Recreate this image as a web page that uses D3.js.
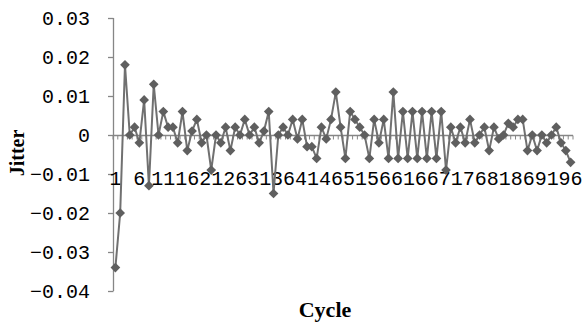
<!DOCTYPE html>
<html>
<head>
<meta charset="utf-8">
<script src="https://cdn.jsdelivr.net/npm/d3@7"></script>
<style>
  body { margin: 0; background: #fff; }
  text { fill: #000; }
</style>
</head>
<body>
<svg id="chart" width="582" height="327"></svg>
<script>
// data
const cycles = d3.range(1, 97);
const jitter = [
  -0.034, -0.020, 0.018, 0.000, 0.002, -0.002, 0.009, -0.013, 0.013, 0.000,
  0.006, 0.002, 0.002, -0.002, 0.006, -0.004, 0.001, 0.004, -0.002, 0.000,
  -0.009, 0.000, -0.002, 0.002, -0.004, 0.002, 0.000, 0.004, 0.000, 0.002,
  -0.002, 0.001, 0.006, -0.015, 0.000, 0.002, 0.000, 0.004, -0.001, 0.004,
  -0.003, -0.003, -0.006, 0.002, -0.001, 0.004, 0.011, 0.002, -0.006, 0.006,
  0.004, 0.002, 0.000, -0.006, 0.004, -0.002, 0.004, -0.006, 0.011, -0.006,
  0.006, -0.006, 0.006, -0.006, 0.006, -0.006, 0.006, -0.006, 0.006, -0.009,
  0.002, -0.002, 0.002, -0.002, 0.004, -0.002, 0.000, 0.002, -0.004, 0.002,
  -0.001, 0.000, 0.003, 0.002, 0.004, 0.004, -0.004, 0.000, -0.004, 0.000,
  -0.002, 0.000, 0.002, -0.002, -0.004, -0.007
];
const yTicks = [0.03, 0.02, 0.01, 0, -0.01, -0.02, -0.03, -0.04];
const xLabels = cycles.filter(c => (c - 1) % 5 === 0);

const svg = d3.select("#chart");
const axisColor = "#868686";
const tickFont = "'Liberation Mono', monospace";

const x = d3.scaleBand().domain(cycles).range([113, 573]);
const y = d3.scaleLinear().domain([-0.04, 0.03]).range([291, 18]);
const cx = c => x(c) + x.bandwidth() / 2;
const fmt = d3.format(".2f");

// y axis
const yAxis = svg.append("g");
yAxis.append("line")
  .attr("x1", 113.5).attr("x2", 113.5)
  .attr("y1", y(0.03)).attr("y2", y(-0.04))
  .attr("stroke", axisColor).attr("stroke-width", 1.3);
yAxis.selectAll("line.tick").data(yTicks).enter().append("line")
  .attr("class", "tick")
  .attr("x1", 108).attr("x2", 113.5)
  .attr("y1", d => Math.round(y(d)) + 0.5).attr("y2", d => Math.round(y(d)) + 0.5)
  .attr("stroke", axisColor).attr("stroke-width", 1.3);
yAxis.selectAll("text").data(yTicks).enter().append("text")
  .attr("x", 90).attr("y", d => y(d))
  .attr("dy", "0.36em")
  .attr("text-anchor", "end")
  .style("font-family", tickFont)
  .style("font-size", "20px")
  .text(d => d === 0 ? "0" : fmt(d));

// x axis at zero
const y0 = Math.round(y(0)) + 0.5;
const xAxis = svg.append("g");
xAxis.append("line")
  .attr("x1", 113).attr("x2", 573)
  .attr("y1", y0).attr("y2", y0)
  .attr("stroke", axisColor).attr("stroke-width", 1.3);
xAxis.selectAll("line.tick").data(cycles.concat([null])).enter().append("line")
  .attr("class", "tick")
  .attr("x1", (d, i) => 113 + i * x.step()).attr("x2", (d, i) => 113 + i * x.step())
  .attr("y1", y0).attr("y2", y0 + 4)
  .attr("stroke", axisColor).attr("stroke-width", 1);
xAxis.selectAll("text").data(xLabels).enter().append("text")
  .attr("x", d => cx(d)).attr("y", 185)
  .attr("text-anchor", "middle")
  .style("font-family", tickFont)
  .style("font-size", "20px")
  .text(d => d);

// series
const line = d3.line().x((d, i) => cx(cycles[i])).y(d => y(d));
svg.append("path")
  .datum(jitter)
  .attr("d", line)
  .attr("fill", "none")
  .attr("stroke", "#707070")
  .attr("stroke-width", 2);

svg.append("g").selectAll("path").data(jitter).enter().append("path")
  .attr("d", d3.symbol().type(d3.symbolDiamond2).size(60))
  .attr("transform", (d, i) => "translate(" + cx(cycles[i]) + "," + y(d) + ")")
  .attr("fill", "#5f5f5f");

// axis titles
svg.append("text")
  .attr("transform", "translate(24,153) rotate(-90)")
  .attr("text-anchor", "middle")
  .style("font-family", "'Liberation Serif', serif")
  .style("font-weight", "bold")
  .style("font-size", "20px")
  .text("Jitter");

svg.append("text")
  .attr("x", 325).attr("y", 317)
  .attr("text-anchor", "middle")
  .style("font-family", "'Liberation Serif', serif")
  .style("font-weight", "bold")
  .style("font-size", "22px")
  .text("Cycle");
</script>
</body>
</html>
